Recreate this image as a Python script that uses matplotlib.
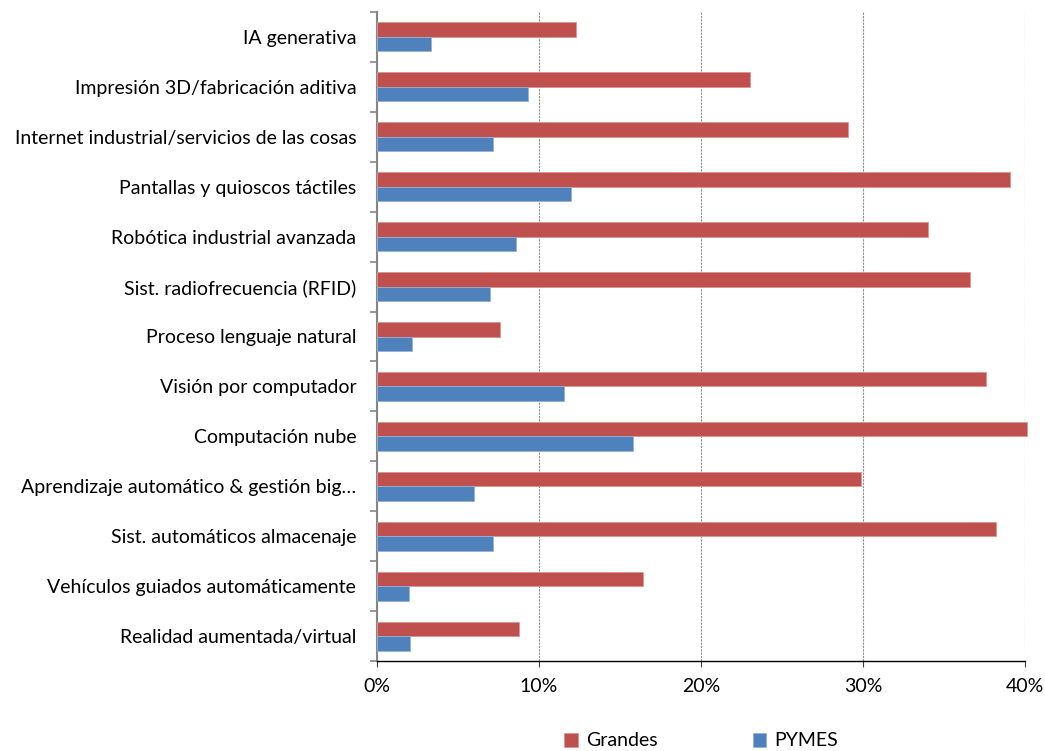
import matplotlib
matplotlib.use("Agg")
import matplotlib.pyplot as plt
import numpy as np
from matplotlib.ticker import FuncFormatter, FixedLocator

plt.rcParams['font.family'] = ['Lato', 'DejaVu Sans']

categories = [
    "IA generativa",
    "Impresión 3D/fabricación aditiva",
    "Internet industrial/servicios de las cosas",
    "Pantallas y quioscos táctiles",
    "Robótica industrial avanzada",
    "Sist. radiofrecuencia (RFID)",
    "Proceso lenguaje natural",
    "Visión por computador",
    "Computación nube",
    "Aprendizaje automático & gestión big…",
    "Sist. automáticos almacenaje",
    "Vehículos guiados automáticamente",
    "Realidad aumentada/virtual",
]
grandes = [12.3, 23.0, 29.1, 39.1, 34.0, 36.6, 7.6, 37.6, 40.1, 29.9, 38.2, 16.4, 8.75]
pymes = [3.35, 9.3, 7.15, 12.0, 8.56, 6.97, 2.15, 11.57, 15.8, 6.0, 7.15, 1.97, 2.05]
xticks = [0, 10, 20, 30, 40]

fig = plt.figure(figsize=(10.45, 7.51), dpi=100)
ax = fig.add_axes([377/1045, 1-661/751, (1025-377)/1045, (661-12)/751])

y = np.arange(len(categories))
h = 0.29
red = "#C0504D"
blue = "#4F81BD"
ax.barh(y - h/2, grandes, height=h, color=red, edgecolor="#D99694", linewidth=0.6,
        label="Grandes", clip_on=False, zorder=3)
ax.barh(y + h/2, pymes, height=h, color=blue, edgecolor="#95B3D7", linewidth=0.6,
        label="PYMES", clip_on=False, zorder=3)

ax.set_xlim(0, 40)
ax.set_ylim(len(categories) - 0.5, -0.5)

ax.set_yticks(y)
ax.set_yticklabels(categories, fontsize=14)
ax.yaxis.set_minor_locator(FixedLocator(np.arange(-0.5, len(categories) + 0.5, 1)))
ax.tick_params(axis='y', which='major', length=0, pad=15)
ax.tick_params(axis='y', which='minor', length=5, color="#868686", width=1.2)

ax.set_xticks(xticks)
ax.xaxis.set_major_formatter(FuncFormatter(lambda v, p: f"{int(v)}%"))
ax.tick_params(axis='x', which='major', length=4, color="#404040", labelsize=14, pad=8)

ax.grid(axis='x', color="#8c8c8c", linestyle=(0, (2, 1)), linewidth=0.8, zorder=0)
ax.set_axisbelow(True)

for s in ['top', 'right']:
    ax.spines[s].set_visible(False)
ax.spines['left'].set_color("#868686")
ax.spines['left'].set_linewidth(1.5)
ax.spines['bottom'].set_color("#000000")
ax.spines['bottom'].set_linestyle((0, (1.5, 1)))
ax.spines['bottom'].set_linewidth(1)

leg = fig.legend(loc='center', bbox_to_anchor=(0.671, 1-741/751), ncol=2, frameon=False,
                 fontsize=14, handlelength=0.7, handleheight=0.7, handletextpad=0.4,
                 columnspacing=4.9)

fig.savefig("out.png", dpi=100)
